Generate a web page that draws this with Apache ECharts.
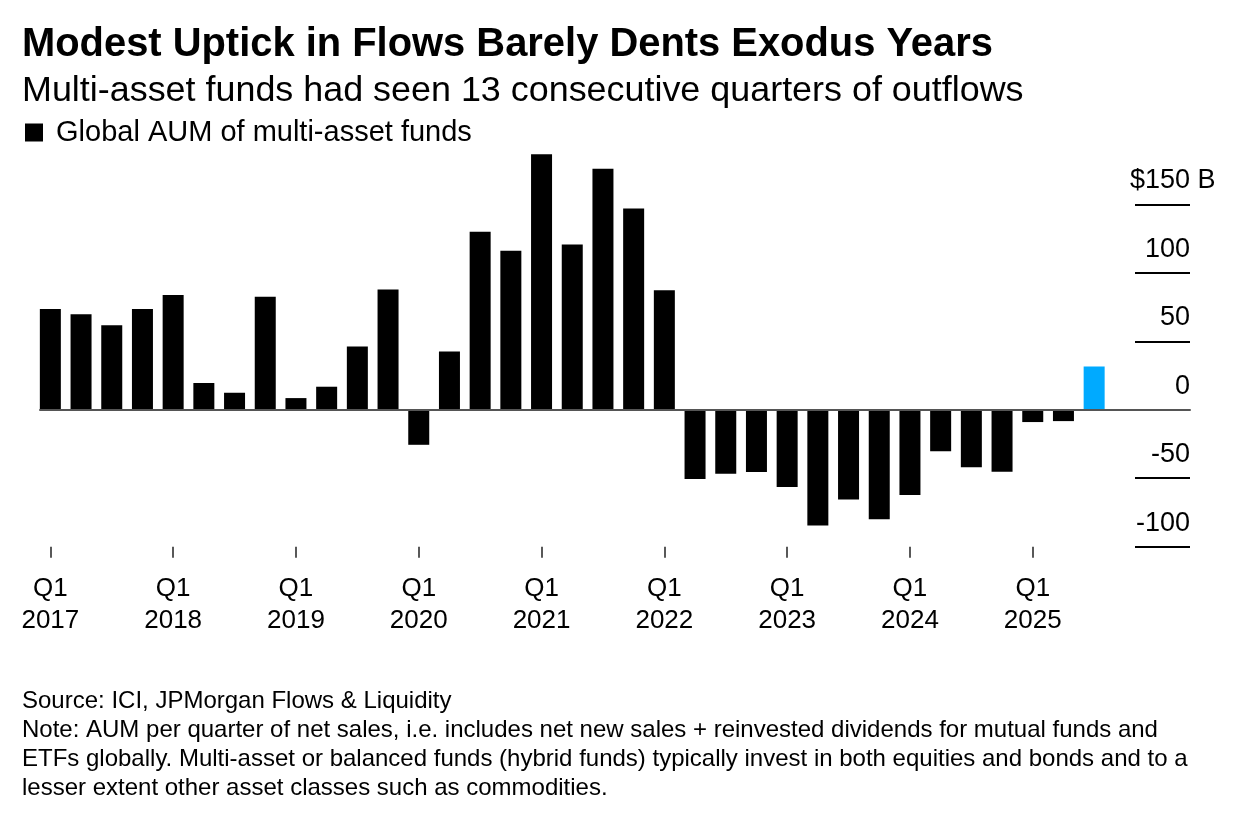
<!DOCTYPE html>
<html>
<head>
<meta charset="utf-8">
<script src="https://cdn.jsdelivr.net/npm/echarts@6/dist/echarts.min.js"></script>
<style>
  html, body { margin: 0; padding: 0; background: #fff; }
  #chart { width: 1236px; height: 820px; }
</style>
</head>
<body>
<div id="chart"></div>
<script>
// quarterly net flows into multi-asset funds, $B
var quarters = [
  'Q1 2017', 'Q2 2017', 'Q3 2017', 'Q4 2017',
  'Q1 2018', 'Q2 2018', 'Q3 2018', 'Q4 2018',
  'Q1 2019', 'Q2 2019', 'Q3 2019', 'Q4 2019',
  'Q1 2020', 'Q2 2020', 'Q3 2020', 'Q4 2020',
  'Q1 2021', 'Q2 2021', 'Q3 2021', 'Q4 2021',
  'Q1 2022', 'Q2 2022', 'Q3 2022', 'Q4 2022',
  'Q1 2023', 'Q2 2023', 'Q3 2023', 'Q4 2023',
  'Q1 2024', 'Q2 2024', 'Q3 2024', 'Q4 2024',
  'Q1 2025', 'Q2 2025', 'Q3 2025'
];
var flows = [
  73.6, 69.8, 61.7, 73.6,
  83.7, 19.5, 12.4, 82.4,
  8.5, 16.8, 46.1, 87.8,
  -25.6, 42.5, 130, 116,
  186.5, 120.6, 176, 147,
  87.2, -50.5, -46.7, -45.5,
  -56.5, -84.5, -65.5, -80,
  -62.3, -30.3, -42, -45.3,
  -9, -8.3, 31.5
];
var yTicks = [-100, -50, 0, 50, 100, 150];
var seriesName = 'Global AUM of multi-asset funds';

var FONT = '"Liberation Sans", Arial, sans-serif';
var lastIdx = flows.length - 1;

var barData = flows.map(function (v, i) {
  return i === lastIdx ? { value: v, itemStyle: { color: '#00aaff' } } : v;
});

var chart = echarts.init(document.getElementById('chart'), null, { renderer: 'canvas' });

var option = {
  backgroundColor: '#fff',
  animation: false,
  textStyle: { fontFamily: FONT, color: '#000' },
  title: [
    {
      text: 'Modest Uptick in Flows Barely Dents Exodus Years',
      left: 22, top: 25, padding: 0,
      textStyle: { fontSize: 39.9, fontWeight: 'bold', lineHeight: 40, color: '#000', fontFamily: FONT }
    },
    {
      text: 'Multi-asset funds had seen 13 consecutive quarters of outflows',
      left: 22, top: 71, padding: 0,
      textStyle: { fontSize: 35.9, fontWeight: 'normal', lineHeight: 40, color: '#000', fontFamily: FONT }
    },
    {
      text: 'Source: ICI, JPMorgan Flows & Liquidity\n' +
        'Note: AUM per quarter of net sales, i.e. includes net new sales + reinvested dividends for mutual funds and\n' +
        'ETFs globally. Multi-asset or balanced funds (hybrid funds) typically invest in both equities and bonds and to a\n' +
        'lesser extent other asset classes such as commodities.',
      left: 22, top: 687, padding: 0,
      textStyle: { fontSize: 24, fontWeight: 'normal', lineHeight: 29, color: '#000', fontFamily: FONT }
    }
  ],
  legend: {
    left: 25, top: 118, padding: 0,
    icon: 'rect', itemWidth: 18, itemHeight: 18,
    selectedMode: false,
    data: [seriesName],
    textStyle: { fontSize: 29, lineHeight: 28, color: '#000', fontFamily: FONT, padding: [0, 0, 0, 8] }
  },
  grid: [
    // bars
    { left: 35, right: 126.5, top: 149.5, bottom: 273.3 },
    // zero line
    { left: 40, right: 46, top: 204.3, bottom: 273.3 },
    // right-hand gridlines and labels
    { left: 1135, right: 46, top: 204.3, bottom: 273.3 }
  ],
  xAxis: [
    {
      type: 'category', gridIndex: 0, data: quarters,
      axisLine: { show: false, onZero: false },
      axisTick: { show: true, interval: 3, alignWithLabel: true, length: 11, lineStyle: { color: '#222', width: 1.5 } },
      axisLabel: {
        interval: 3, margin: 26, fontSize: 26, lineHeight: 32, color: '#000', fontFamily: FONT,
        formatter: function (v) { var p = v.split(' '); return p[0] + '\n' + p[1]; }
      },
      splitLine: { show: false }
    },
    {
      type: 'value', gridIndex: 1, min: 0, max: 1, z: 5,
      axisLine: { show: true, onZero: true, lineStyle: { color: '#555', width: 2 } },
      axisTick: { show: false }, axisLabel: { show: false }, splitLine: { show: false }
    },
    {
      type: 'value', gridIndex: 2, min: 0, max: 1, show: false
    }
  ],
  yAxis: [
    { type: 'value', gridIndex: 0, min: -100, max: 190, show: false, splitLine: { show: false } },
    { type: 'value', gridIndex: 1, min: -100, max: 150, show: false, splitLine: { show: false } },
    {
      type: 'value', gridIndex: 2, position: 'right', min: yTicks[0], max: yTicks[yTicks.length - 1], interval: 50,
      axisLine: { show: false }, axisTick: { show: false },
      splitLine: { show: true, lineStyle: { color: '#000', width: 2 } },
      axisLabel: {
        inside: true, margin: 60, align: 'left', color: '#000', fontFamily: FONT,
        verticalAlign: 'bottom', padding: [0, 0, 10, 0],
        formatter: function (v) {
          if (v === yTicks[yTicks.length - 1]) return '{d|$' + v + '}{u| B}';
          return '{d|' + v + '}';
        },
        rich: {
          d: { fontSize: 27, lineHeight: 27, color: '#000', fontFamily: FONT, width: 60, align: 'right' },
          u: { fontSize: 27, lineHeight: 27, color: '#000', fontFamily: FONT }
        }
      }
    }
  ],
  series: [
    {
      name: seriesName,
      type: 'bar',
      xAxisIndex: 0, yAxisIndex: 0,
      barWidth: 21,
      itemStyle: { color: '#000' },
      data: barData
    }
  ]
};

chart.setOption(option);
</script>
</body>
</html>
